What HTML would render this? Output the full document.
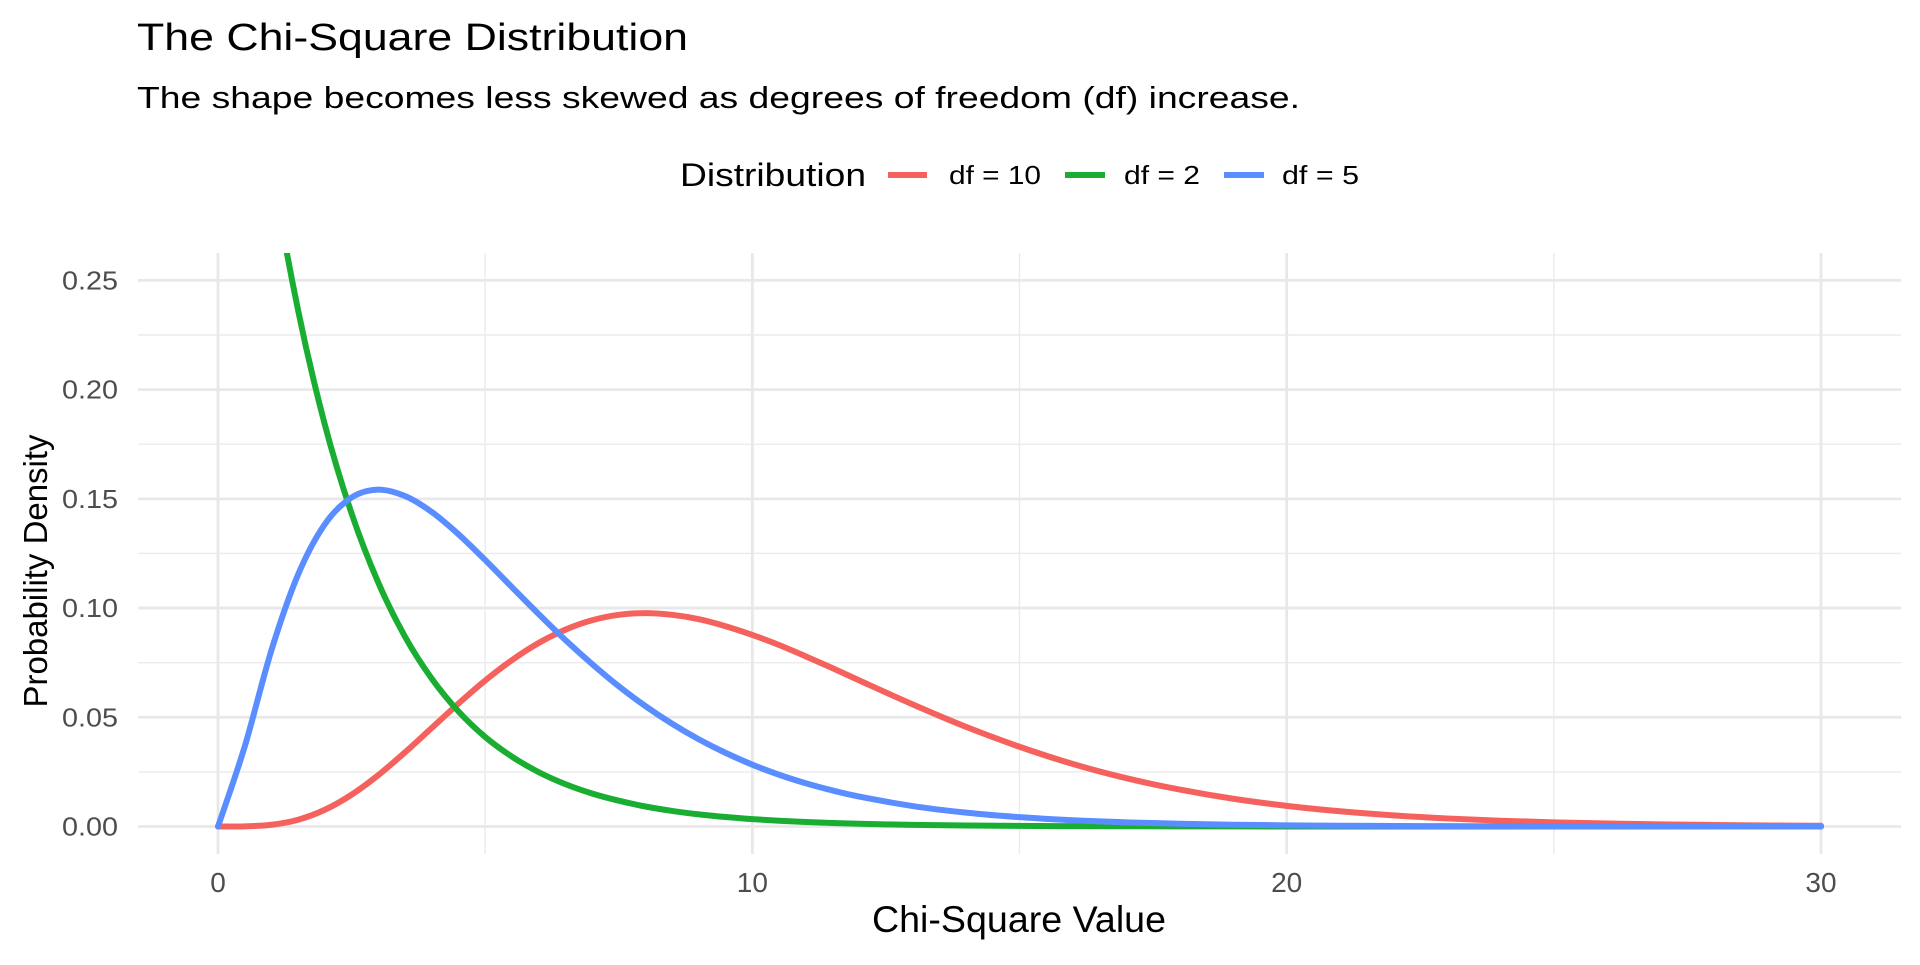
<!DOCTYPE html>
<html><head><meta charset="utf-8"><style>
body{margin:0;background:#fff;}
svg text{font-family:"Liberation Sans",sans-serif;}
</style></head><body>
<svg id="chart" width="1920" height="960" xmlns="http://www.w3.org/2000/svg">
<text x="137" y="50" font-size="38" textLength="551" lengthAdjust="spacingAndGlyphs" fill="#000">The Chi-Square Distribution</text>
<text x="137" y="108" font-size="31" textLength="1163" lengthAdjust="spacingAndGlyphs" fill="#000">The shape becomes less skewed as degrees of freedom (df) increase.</text>
<g>
<text x="680" y="186" font-size="32" textLength="186" lengthAdjust="spacingAndGlyphs">Distribution</text>
<g><line x1="888" y1="175" x2="927" y2="175" stroke="#F5625D" stroke-width="6"/><text x="949" y="184" font-size="26" textLength="92" lengthAdjust="spacingAndGlyphs">df = 10</text></g>
<g><line x1="1065" y1="175" x2="1105" y2="175" stroke="#19AE32" stroke-width="6"/><text x="1124" y="184" font-size="26" textLength="76" lengthAdjust="spacingAndGlyphs">df = 2</text></g>
<g><line x1="1224" y1="175" x2="1264" y2="175" stroke="#5A8DFF" stroke-width="6"/><text x="1282" y="184" font-size="26" textLength="77" lengthAdjust="spacingAndGlyphs">df = 5</text></g>
</g>
<defs><clipPath id="pc"><rect x="138" y="253" width="1763" height="601"/></clipPath></defs>
<g id="grid"></g>
<g id="series" clip-path="url(#pc)"></g>
<g id="ticks"></g>
<text x="1019" y="932" font-size="37" textLength="294" lengthAdjust="spacingAndGlyphs" text-anchor="middle">Chi-Square Value</text>
<text transform="translate(47,571) rotate(-90)" font-size="33" textLength="273" lengthAdjust="spacingAndGlyphs" text-anchor="middle">Probability Density</text>
</svg>
<script>
const xs=[0,0.5,1,1.5,2,2.5,3,3.5,4,4.5,5,5.5,6,6.5,7,7.5,8,8.5,9,9.5,10,10.5,11,11.5,12,13,14,15,16,17,18,19,20,21,22,23,24,25,26,27,28,29,30];
const df2=[0.5,0.3894,0.3033,0.2362,0.1839,0.1433,0.1116,0.0869,0.0677,0.0527,0.0410,0.0320,0.0249,0.0194,0.0151,0.0118,0.00916,0.00713,0.00555,0.00433,0.00337,0.00262,0.00204,0.00159,0.00124,0.00075,0.00046,0.00028,0.00017,0.0001,0.00006,0.00004,0.00002,0.00001,0.00001,0,0,0,0,0,0,0,0];
const df5=[0,0.0366,0.0807,0.1154,0.1384,0.1506,0.1542,0.1513,0.1440,0.1338,0.1220,0.1096,0.0973,0.0854,0.0744,0.0642,0.0551,0.0470,0.0399,0.0337,0.0283,0.0237,0.0198,0.0165,0.0137,0.00937,0.00635,0.00427,0.00285,0.0019,0.00125,0.00082,0.00054,0.00035,0.00023,0.00015,0.0001,0.00006,0.00004,0.00003,0.00002,0.00001,0.00001];
const df10=[0,0.0000634,0.00079,0.00311,0.00766,0.01457,0.02353,0.03396,0.04511,0.05628,0.0668,0.07614,0.0840,0.0901,0.0944,0.0969,0.0977,0.0969,0.0949,0.0917,0.0877,0.0831,0.0779,0.0725,0.0669,0.0559,0.0456,0.0365,0.0286,0.0221,0.0169,0.0127,0.00946,0.00697,0.00509,0.00369,0.00265,0.0019,0.00135,0.00096,0.00068,0.00048,0.00034];
const xTicks=[0,10,20,30];
const xMinor=[5,15,25];
const yTicks=[0,0.05,0.10,0.15,0.20,0.25];
const yTickLabels=["0.00","0.05","0.10","0.15","0.20","0.25"];
const yMinor=[0.025,0.075,0.125,0.175,0.225];
const X=v=>218+v*(1821-218)/30;
const Y=v=>826.5-v*(826.5-280.4)/0.25;
const NS="http://www.w3.org/2000/svg";
function mk(tag,attrs,parent){const e=document.createElementNS(NS,tag);for(const k in attrs)e.setAttribute(k,attrs[k]);parent.appendChild(e);return e;}
const grid=document.getElementById('grid'),ticks=document.getElementById('ticks'),series=document.getElementById('series');
const L=138,R=1901,T=253,B=854;
xMinor.forEach(v=>{const l=mk('line',{x1:X(v),x2:X(v),y1:T,y2:B,stroke:'#ebebeb','stroke-width':1.4},grid);

});
yMinor.forEach(v=>{const l=mk('line',{x1:L,x2:R,y1:Y(v),y2:Y(v),stroke:'#ebebeb','stroke-width':1.4},grid);

});
xTicks.forEach(v=>{const l=mk('line',{x1:X(v),x2:X(v),y1:T,y2:B,stroke:'#e8e8e8','stroke-width':2.8},grid);


const t=mk('text',{x:X(v),y:892,'font-size':28,fill:'#4d4d4d','text-anchor':'middle'},ticks);t.textContent=v;

});
yTicks.forEach((v,i)=>{const l=mk('line',{x1:L,x2:R,y1:Y(v),y2:Y(v),stroke:'#e8e8e8','stroke-width':2.8},grid);


const t=mk('text',{x:118,y:Y(v)+9,'font-size':26,fill:'#4d4d4d','text-anchor':'end',textLength:56,lengthAdjust:'spacingAndGlyphs'},ticks);t.textContent=yTickLabels[i];

});
function path(ys){const p=xs.map((x,i)=>[X(x),Y(ys[i])]);let d='M'+p[0][0]+','+p[0][1];
for(let i=0;i<p.length-1;i++){const p0=p[i-1]||p[i],p1=p[i],p2=p[i+1],p3=p[i+2]||p2;
d+=' C'+(p1[0]+(p2[0]-p0[0])/6)+','+(p1[1]+(p2[1]-p0[1])/6)+' '+(p2[0]-(p3[0]-p1[0])/6)+','+(p2[1]-(p3[1]-p1[1])/6)+' '+p2[0]+','+p2[1];}
return d;}
[[df10,'#F5625D','line-df10'],[df2,'#19AE32','line-df2'],[df5,'#5A8DFF','line-df5']].forEach(s=>{
const p=mk('path',{d:path(s[0]),fill:'none',stroke:s[1],'stroke-width':6,'stroke-linejoin':'round','stroke-linecap':'round'},series);

});
</script>
</body></html>
